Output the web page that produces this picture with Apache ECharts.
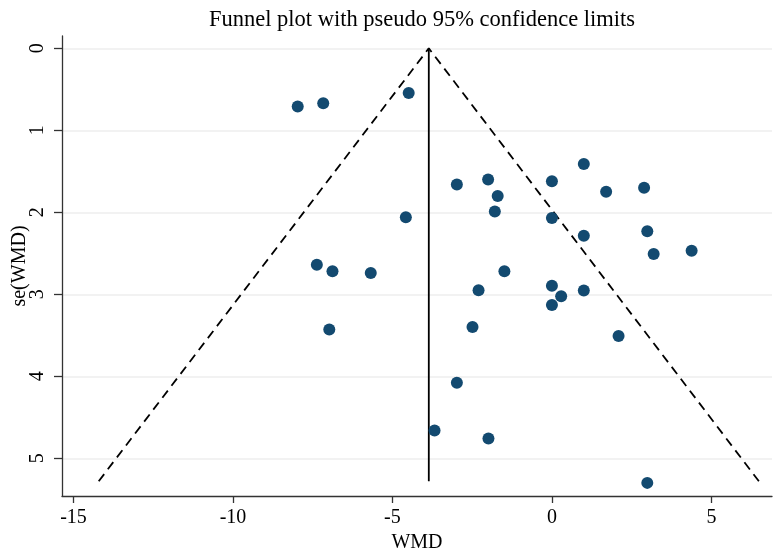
<!DOCTYPE html>
<html>
<head>
<meta charset="utf-8">
<script src="https://cdn.jsdelivr.net/npm/echarts@6/dist/echarts.min.js"></script>
<style>
html,body{margin:0;padding:0;background:#fff;}
#chart{width:773px;height:553px;}
</style>
</head>
<body>
<div id="chart"></div>
<script>
// Study estimates (WMD) and standard errors se(WMD)
const wmd = [-7.97, -7.17, -4.49, 1.0, -2.98, -2.0, -1.70, -1.79, 0, 1.70, 2.89,
             -4.58, 0, 1.0, 2.99, 3.19, 4.38, -7.37, -6.88, -5.68, -1.49, -2.30,
             0, 0.29, 1.0, 0, -6.98, -2.49, 2.09, -2.98, -3.68, -1.99, 2.99];
const seWmd = [0.71, 0.67, 0.545, 1.41, 1.66, 1.60, 1.80, 1.99, 1.62, 1.75, 1.70,
               2.06, 2.07, 2.285, 2.23, 2.51, 2.47, 2.64, 2.72, 2.74, 2.72, 2.95,
               2.895, 3.025, 2.955, 3.13, 3.43, 3.40, 3.51, 4.08, 4.66, 4.76, 5.30];
// Pooled (fixed-effect) estimate and largest se for the pseudo 95% limits
const pooled = -3.86;
const seMax = 5.28;
const z95 = 1.96;
const xTicks = [-15, -10, -5, 0, 5];
const yTicks = [0, 1, 2, 3, 4, 5];

const points = wmd.map((v, i) => [v, seWmd[i]]);
const funnel = [[pooled - z95 * seMax, seMax], [pooled, 0], [pooled + z95 * seMax, seMax]];
const centre = [[pooled, 0], [pooled, seMax]];

const serif = 'Liberation Serif';
const chart = echarts.init(document.getElementById('chart'));
chart.setOption({
  animation: false,
  backgroundColor: '#ffffff',
  title: {
    text: 'Funnel plot with pseudo 95% confidence limits',
    left: 417, top: 4, textAlign: 'center',
    textStyle: { fontFamily: serif, fontSize: 22.5, fontWeight: 'normal', color: '#000' }
  },
  grid: { left: 62, right: 1, top: 36, bottom: 57, containLabel: false, outerBoundsMode: 'none' },
  xAxis: {
    type: 'value', min: -15.36, max: 6.9,
    name: 'WMD', nameLocation: 'middle', nameGap: 37, nameMoveOverlap: false,
    nameTextStyle: { fontFamily: serif, fontSize: 20, color: '#000' },
    axisLine: { show: true, onZero: false, lineStyle: { color: '#333', width: 1.3 } },
    axisTick: { show: true, length: 7, customValues: xTicks, lineStyle: { color: '#333', width: 1.3 } },
    axisLabel: { customValues: xTicks, margin: 12, fontFamily: serif, fontSize: 20, color: '#000' },
    splitLine: { show: false }
  },
  yAxis: {
    type: 'value', min: -0.15, max: 5.46, inverse: true,
    name: 'se(WMD)', nameLocation: 'middle', nameGap: 32, nameRotate: 90, nameMoveOverlap: false,
    nameTextStyle: { fontFamily: serif, fontSize: 20, color: '#000' },
    axisLine: { show: true, onZero: false, lineStyle: { color: '#333', width: 1.3 } },
    axisTick: { show: true, length: 8, customValues: yTicks, lineStyle: { color: '#333', width: 1.3 } },
    axisLabel: { customValues: yTicks, rotate: 90, margin: 14, fontFamily: serif, fontSize: 20, color: '#000' },
    splitLine: { show: true, lineStyle: { color: '#eeeeee', width: 1.5 } }
  },
  series: [
    {
      type: 'line', data: funnel, symbol: 'none', silent: true,
      lineStyle: { color: '#000', width: 1.8, type: [9, 6] }, z: 2
    },
    {
      type: 'line', data: centre, symbol: 'none', silent: true,
      lineStyle: { color: '#000', width: 1.8 }, z: 2
    },
    {
      type: 'scatter', data: points, symbol: 'circle', symbolSize: 12,
      itemStyle: { color: '#134a70', opacity: 1 }, z: 3
    }
  ]
});
</script>
</body>
</html>
